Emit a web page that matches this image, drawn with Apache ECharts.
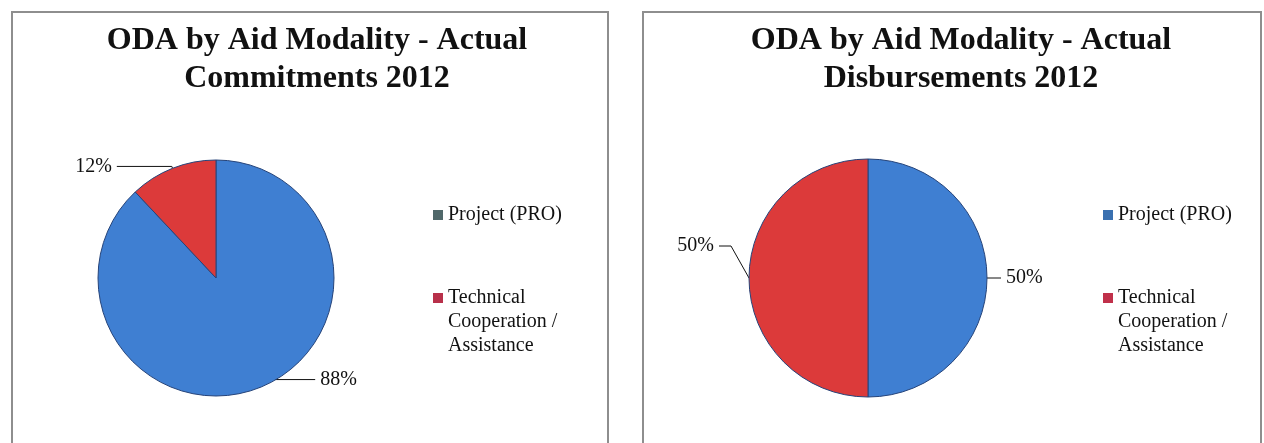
<!DOCTYPE html>
<html>
<head>
<meta charset="utf-8">
<script src="https://cdn.jsdelivr.net/npm/echarts@6/dist/echarts.min.js"></script>
<style>
  html, body { margin: 0; padding: 0; background: #fff; }
  #main { width: 1264px; height: 443px; }
</style>
</head>
<body>
<div id="main"></div>
<script>
// data
const categories = ['Project (PRO)', 'Technical Cooperation / Assistance'];
const commitments2012 = [88, 12];
const disbursements2012 = [50, 50];
const chartTitles = [
  'ODA by Aid Modality - Actual\nCommitments 2012',
  'ODA by Aid Modality - Actual\nDisbursements 2012'
];

const serif = 'Liberation Serif, Times New Roman, serif';
const sliceColors = ['#3f7fd2', '#dc3a3a'];

const myChart = echarts.init(document.getElementById('main'));

function pieData(values) {
  return values.map((v, i) => ({
    name: categories[i],
    value: v,
    itemStyle: { color: sliceColors[i] }
  }));
}

function legendFor(left, projectColor, techColor) {
  const base = {
    orient: 'vertical',
    left: left,
    padding: 0,
    icon: 'rect',
    itemWidth: 10,
    itemHeight: 10,
    selectedMode: false,
    itemStyle: { borderWidth: 0 },
    // two blank lines on top so the icon sits beside the first line
    formatter: (name) => name === categories[1] ? '\n\nTechnical\nCooperation /\nAssistance' : name,
    textStyle: { fontFamily: serif, fontSize: 20, lineHeight: 24, color: '#111' }
  };
  return [
    Object.assign({}, base, {
      top: 203,
      data: [{ name: categories[0], itemStyle: { color: projectColor } }]
    }),
    Object.assign({}, base, {
      top: 238,
      data: [{ name: categories[1], itemStyle: { color: techColor } }]
    })
  ];
}

// spaces on both sides keep a small gap between text and leader line
const labelStyle = {
  formatter: (p) => ' ' + p.percent + '% ',
  fontFamily: serif,
  fontSize: 20,
  color: '#111',
  distanceToLabelLine: 0
};

// nudge one label (dx, dy in px), echarts redraws its labelLine
function nudge(index, dx, dy) {
  return (p) => {
    if (p.dataIndex !== index) return {};
    const r = p.labelRect;
    const ax = p.align === 'right' ? r.x + r.width : r.x;
    return { x: ax + dx, y: r.y + r.height / 2 + dy };
  };
}

const option = {
  animation: false,
  backgroundColor: '#fff',
  graphic: [
    { type: 'rect', shape: { x: 12, y: 12, width: 596, height: 440 },
      style: { fill: 'none', stroke: '#8e8e8e', lineWidth: 2 }, silent: true },
    { type: 'rect', shape: { x: 643, y: 12, width: 618, height: 440 },
      style: { fill: 'none', stroke: '#8e8e8e', lineWidth: 2 }, silent: true }
  ],
  title: [
    { text: chartTitles[0], left: 312, top: 17, textAlign: 'center',
      textStyle: { fontFamily: serif, fontWeight: 'bold', fontSize: 32, lineHeight: 38, color: '#111' } },
    { text: chartTitles[1], left: 956, top: 17, textAlign: 'center',
      textStyle: { fontFamily: serif, fontWeight: 'bold', fontSize: 32, lineHeight: 38, color: '#111' } }
  ],
  legend: [].concat(
    legendFor(433, '#50686a', '#b8304a'),
    legendFor(1103, '#3a70b0', '#c0304a')
  ),
  series: [
    {
      name: 'Actual Commitments 2012',
      type: 'pie',
      center: [216, 278],
      radius: 118,
      percentPrecision: 0,
      avoidLabelOverlap: false,
      emphasis: { disabled: true },
      itemStyle: { borderColor: '#26447a', borderWidth: 1 },
      label: labelStyle,
      labelLine: { length: 2, length2: 55, lineStyle: { color: '#111', width: 1 } },
      labelLayout: nudge(0, 0, -10),
      data: pieData(commitments2012)
    },
    {
      name: 'Actual Disbursements 2012',
      type: 'pie',
      center: [868, 278],
      radius: 119,
      percentPrecision: 0,
      avoidLabelOverlap: false,
      emphasis: { disabled: true },
      itemStyle: { borderColor: '#26447a', borderWidth: 1 },
      label: labelStyle,
      labelLine: { length: 2, length2: 12, lineStyle: { color: '#111', width: 1 } },
      labelLayout: nudge(1, -16, -32),
      data: pieData(disbursements2012)
    }
  ]
};

myChart.setOption(option);
</script>
</body>
</html>
